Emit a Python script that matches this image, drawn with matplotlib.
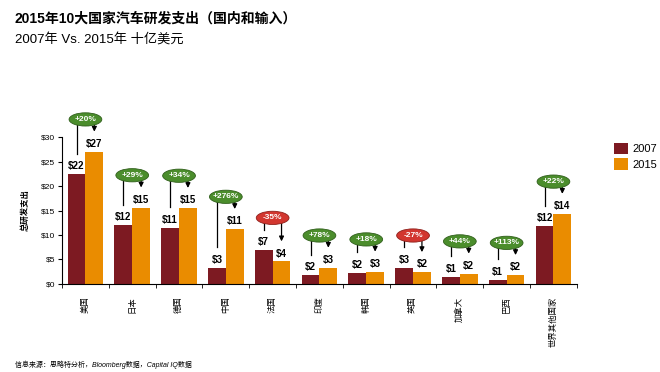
import numpy as np
import matplotlib
matplotlib.use('Agg')
import matplotlib.pyplot as plt
from matplotlib.patches import Ellipse

plt.rcParams['font.family'] = ['Liberation Sans', 'Noto Sans CJK SC', 'DejaVu Sans']

# 数据
countries = ['美国', '日本', '德国', '中国', '法国', '印度', '韩国', '英国', '加拿大', '巴西', '世界其他国家']
spend_2007 = [22.4, 12.0, 11.5, 3.3, 6.9, 1.8, 2.3, 3.3, 1.5, 0.8, 11.8]
spend_2015 = [27.0, 15.6, 15.5, 11.2, 4.6, 3.3, 2.5, 2.4, 2.1, 1.8, 14.3]
labels_2007 = ['$22', '$12', '$11', '$3', '$7', '$2', '$2', '$3', '$1', '$1', '$12']
labels_2015 = ['$27', '$15', '$15', '$11', '$4', '$3', '$3', '$2', '$2', '$2', '$14']
growth = ['+20%', '+29%', '+34%', '+276%', '-35%', '+78%', '+18%', '-27%', '+44%', '+113%', '+22%']
yticks = [0, 5, 10, 15, 20, 25, 30]

c07 = '#7d1a22'
c15 = '#ea8c00'
green = '#4b8d2c'
red = '#d2362f'

fig = plt.figure(figsize=(6.6, 3.72), dpi=100)
ax = fig.add_axes([0.094, 0.2366, 0.780, 0.395])

x = np.arange(len(countries))
w = 0.38
ax.bar(x - w / 2, spend_2007, w, color=c07, label='2007', zorder=2)
ax.bar(x + w / 2, spend_2015, w, color=c15, label='2015', zorder=2)

ax.set_xlim(-0.5, len(countries) - 0.5)
ax.set_ylim(0, 30)
ax.set_yticks(yticks)
ax.set_yticklabels(['$%d' % v for v in yticks], fontsize=6)
ax.set_xticks(x)
ax.set_xticklabels(countries, rotation=90, fontsize=6, va='top')
ax.tick_params(axis='x', length=0, pad=9)
ax.set_xticks(np.arange(-0.5, len(countries)), minor=True)
ax.tick_params(axis='x', which='minor', length=3, direction='out')
ax.tick_params(axis='y', length=3, direction='out', pad=2)
for s in ['top', 'right']:
    ax.spines[s].set_visible(False)
ax.set_ylabel('总研发支出', fontsize=6, fontweight='bold', labelpad=8)

for i in range(len(countries)):
    a, b = spend_2007[i], spend_2015[i]
    ax.text(i - w / 2, a + 0.6, labels_2007[i], ha='center', va='bottom',
            fontsize=7, fontweight='bold', zorder=3)
    ax.text(i + w / 2, b + 0.6, labels_2015[i], ha='center', va='bottom',
            fontsize=7, fontweight='bold', zorder=3)
    ey = max(a, b) + 6.6
    col = red if growth[i].startswith('-') else green
    ax.plot([i - w / 2, i - w / 2], [ey, a + 4.2], color='black', lw=0.9,
            clip_on=False, zorder=3)
    ax.annotate('', xy=(i + w / 2, b + 4.1), xytext=(i + w / 2, ey),
                arrowprops=dict(arrowstyle='-|>', color='black', lw=0.9,
                                mutation_scale=7, shrinkA=0, shrinkB=0),
                annotation_clip=False, zorder=3)
    e = Ellipse((i, ey), 0.70, 2.7, facecolor=col, edgecolor='#2f5e1a' if col == green else '#8e1f1a',
                lw=0.6, clip_on=False, zorder=4)
    ax.add_patch(e)
    ax.text(i, ey, growth[i], ha='center', va='center', color='white',
            fontsize=6, fontweight='bold', zorder=5)

fig.legend(loc='upper left', bbox_to_anchor=(0.924, 0.628), frameon=False,
           fontsize=8, handlelength=1.2, handleheight=1.2, handletextpad=0.4,
           labelspacing=0.35, borderaxespad=0)

fig.text(0.022, 0.95, '2015年10大国家汽车研发支出（国内和输入）', fontsize=10,
         fontweight='bold', va='center')
fig.text(0.022, 0.893, '2007年 Vs. 2015年 十亿美元', fontsize=9.5, va='center')
fig.text(0.022, 0.008, '信息来源：思略特分析，Bloomberg数据，Capital IQ数据', fontsize=5,
         style='italic', va='bottom')

fig.savefig('out.png', dpi=100)
